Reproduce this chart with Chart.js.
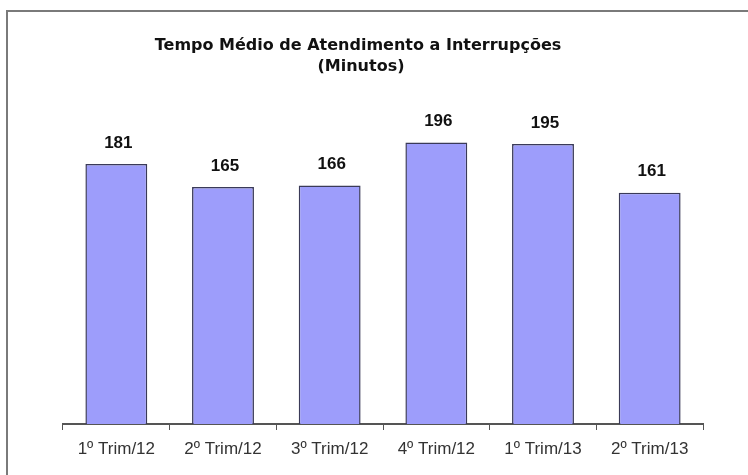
<!DOCTYPE html>
<html>
<head>
<meta charset="utf-8">
<script src="https://cdn.jsdelivr.net/npm/chart.js@4.4.1/dist/chart.umd.min.js"></script>
<style>
  html, body { margin: 0; padding: 0; background: #fff; }
  canvas { display: block; }
</style>
</head>
<body>
<canvas id="chart" width="748" height="475"></canvas>
<script>
const categories = ["1º Trim/12", "2º Trim/12", "3º Trim/12", "4º Trim/12", "1º Trim/13", "2º Trim/13"];
const minutes = [181, 165, 166, 196, 195, 161];
const titleLines = ["Tempo Médio de Atendimento a Interrupções", "(Minutos)"];

const barFill = "#9d9dfb";
const barEdge = "#3a3a58";
const axisColor = "#555";

// frame around the picture (only top and left edges are visible)
const framePlugin = {
  id: "frame",
  beforeDraw(chart) {
    const ctx = chart.ctx;
    ctx.save();
    ctx.fillStyle = "#fff";
    ctx.fillRect(0, 0, chart.width, chart.height);
    ctx.strokeStyle = "#7a7a7a";
    ctx.lineWidth = 2;
    ctx.beginPath();
    ctx.moveTo(7, chart.height + 5);
    ctx.lineTo(7, 11);
    ctx.lineTo(chart.width + 5, 11);
    ctx.stroke();
    ctx.restore();
  },
};

const titlePlugin = {
  id: "twoLineTitle",
  afterDraw(chart) {
    const ctx = chart.ctx;
    ctx.save();
    ctx.fillStyle = "#111";
    ctx.font = "bold 16px 'DejaVu Sans'";
    ctx.textAlign = "center";
    ctx.textBaseline = "middle";
    ctx.fillText(titleLines[0], 358, 46);
    ctx.fillText(titleLines[1], 361, 67);
    ctx.restore();
  },
};

const valuePlugin = {
  id: "values",
  afterDatasetsDraw(chart) {
    const ctx = chart.ctx;
    const meta = chart.getDatasetMeta(0);
    ctx.save();
    ctx.fillStyle = "#111";
    ctx.font = "bold 17px 'Liberation Sans', Arial";
    ctx.textAlign = "center";
    ctx.textBaseline = "middle";
    meta.data.forEach((bar, i) => {
      ctx.fillText(minutes[i], bar.x + 2, bar.y - 21);
    });
    ctx.restore();
  },
};

new Chart(document.getElementById("chart"), {
  type: "bar",
  data: {
    labels: categories,
    datasets: [
      {
        label: "Minutos",
        data: minutes,
        backgroundColor: barFill,
        borderColor: barEdge,
        borderWidth: 1.5,
        barPercentage: 0.58,
        categoryPercentage: 1,
      },
    ],
  },
  options: {
    responsive: false,
    devicePixelRatio: 1,
    animation: false,
    layout: {
      padding: { top: 65, left: 63, right: 45, bottom: 0 },
    },
    plugins: {
      legend: { display: false },
      title: { display: false },
      tooltip: { enabled: false },
    },
    scales: {
      x: {
        grid: {
          display: true,
          offset: true,
          drawOnChartArea: false,
          drawTicks: true,
          tickLength: 6,
          color: axisColor,
          lineWidth: 1,
        },
        border: { display: true, color: axisColor, width: 2 },
        ticks: {
          color: "#333",
          font: { family: "'Liberation Sans', Arial", size: 17 },
          padding: 9,
          maxRotation: 0,
          autoSkip: false,
        },
        afterFit(scale) {
          scale.height = 51;
        },
      },
      y: {
        display: false,
        min: 0,
        max: 250,
      },
    },
  },
  plugins: [framePlugin, titlePlugin, valuePlugin],
});
</script>
</body>
</html>
